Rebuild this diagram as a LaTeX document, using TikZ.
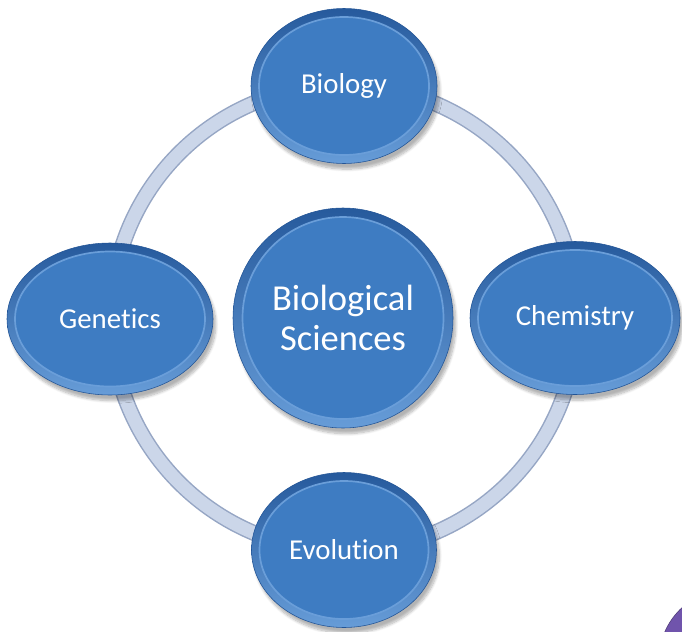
\documentclass[tikz,border=0pt]{standalone}
\usepackage{fontspec}
\setmainfont{Carlito}[Ligatures=NoCommon]
\usepackage{tikz}
\usetikzlibrary{shapes.geometric,shadows.blur}

\definecolor{ringfill}{RGB}{203,214,233}
\definecolor{ringedge}{RGB}{150,166,196}
\definecolor{bubbleblue}{RGB}{62,124,194}
\definecolor{bubbledark}{RGB}{34,84,150}
\definecolor{bubblelight}{RGB}{120,170,225}
\definecolor{blobpurple}{RGB}{112,84,172}

\tikzset{
    bubble/.style={
        ellipse,draw=bubbledark,thin,
        top color=bubbledark!85!bubbleblue,bottom color=bubblelight!70!bubbleblue,
        blur shadow={shadow xshift=2pt,shadow yshift=-4pt,shadow blur steps=8,shadow opacity=30}
    },
    bubble face/.style={
        ellipse,draw=bubblelight!75!bubbleblue,line width=1.2pt,
        fill=bubbleblue,text=white,align=center,
        font=\fontsize{20.5}{24}\selectfont
    },
    ring/.style={draw=ringedge,line width=16*0.025cm}
}

\begin{document}
\begin{tikzpicture}[x=0.025cm,y=-0.025cm]
\useasboundingbox (0,0) rectangle (682,631);

% the light ring behind everything
\draw[ring] (344,318) circle (233);
\draw[ringfill,line width=13*0.025cm] (344,318) circle (233);

% corner blob
\begin{scope}
\clip (0,0) rectangle (682,631);
\fill[blobpurple,draw=blobpurple!70!black] (730,660) circle (71);
\end{scope}

% outer rims
\foreach \name/\x/\y/\w/\h in {bio/344/86/186/155,gen/110/319/206/152,chem/575/318/210/153,evo/344/550/185/155,core/343/318/220/220}
    \node[bubble,minimum width=\w*0.025cm,minimum height=\h*0.025cm] (\name-rim) at (\x,\y) {};

% faces with the labels
\node[bubble face,minimum width=170*0.025cm,minimum height=138*0.025cm] (bio) at (bio-rim) {Biology};
\node[bubble face,minimum width=190*0.025cm,minimum height=135*0.025cm] (gen) at (gen-rim) {Genetics};
\node[bubble face,minimum width=194*0.025cm,minimum height=136*0.025cm] (chem) at (chem-rim) {Chemistry};
\node[bubble face,minimum width=169*0.025cm,minimum height=138*0.025cm] (evo) at (evo-rim) {Evolution};
\node[bubble face,inner sep=0pt,minimum width=201*0.025cm,minimum height=202*0.025cm,
    font=\fontsize{26}{28.5}\selectfont] (core) at (core-rim) {Biological\\Sciences};
\end{tikzpicture}
\end{document}
